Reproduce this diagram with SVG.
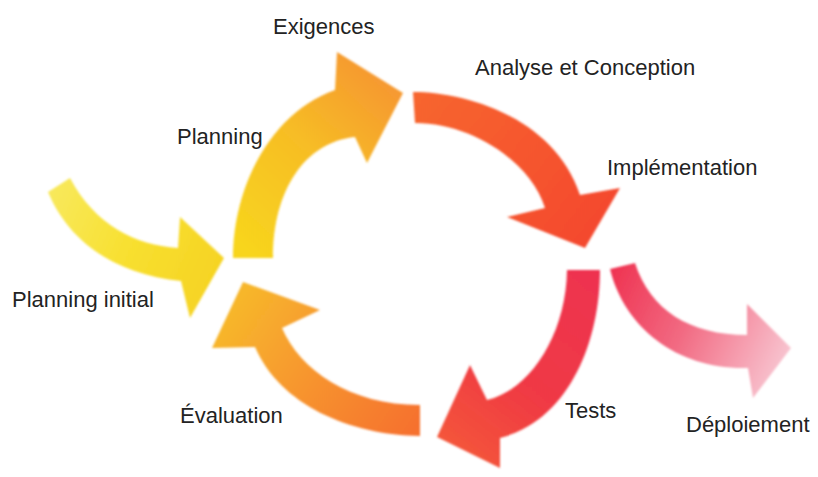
<svg xmlns="http://www.w3.org/2000/svg" width="818" height="477" viewBox="0 0 818 477">
  <defs>
    <style>
      .lbl { font-family: "Liberation Sans", Arial, sans-serif; font-size: 22px; fill: #232323; }
      .arr { filter: url(#soft); }
    </style>
    <filter id="soft" x="-10%" y="-10%" width="120%" height="120%">
      <feGaussianBlur stdDeviation="1.1"/>
    </filter>
    <linearGradient id="gPlan" gradientUnits="userSpaceOnUse" x1="250" y1="255" x2="395" y2="95">
      <stop offset="0" stop-color="#f8d51e"/>
      <stop offset="0.55" stop-color="#f7bd25"/>
      <stop offset="1" stop-color="#f69a30"/>
    </linearGradient>
    <linearGradient id="gAna" gradientUnits="userSpaceOnUse" x1="415" y1="105" x2="590" y2="240">
      <stop offset="0" stop-color="#f7652f"/>
      <stop offset="1" stop-color="#f4492f"/>
    </linearGradient>
    <linearGradient id="gTest" gradientUnits="userSpaceOnUse" x1="585" y1="270" x2="450" y2="445">
      <stop offset="0" stop-color="#ee3350"/>
      <stop offset="0.6" stop-color="#f03a44"/>
      <stop offset="1" stop-color="#f4553a"/>
    </linearGradient>
    <linearGradient id="gEval" gradientUnits="userSpaceOnUse" x1="420" y1="420" x2="240" y2="300">
      <stop offset="0" stop-color="#f6712f"/>
      <stop offset="0.5" stop-color="#f7922f"/>
      <stop offset="1" stop-color="#f7b62c"/>
    </linearGradient>
    <linearGradient id="gInit" gradientUnits="userSpaceOnUse" x1="55" y1="190" x2="220" y2="260">
      <stop offset="0" stop-color="#f8e85a"/>
      <stop offset="0.5" stop-color="#f8e030"/>
      <stop offset="1" stop-color="#f6d424"/>
    </linearGradient>
    <linearGradient id="gDep" gradientUnits="userSpaceOnUse" x1="615" y1="270" x2="790" y2="350">
      <stop offset="0" stop-color="#ef3553"/>
      <stop offset="0.45" stop-color="#f26a82"/>
      <stop offset="1" stop-color="#f8c3cf"/>
    </linearGradient>
  </defs>
  <rect width="818" height="477" fill="#ffffff"/>

  <g id="connectors">
    <path id="arrow-planning-initial" class="arr" fill="url(#gInit)" d="M48,192 L70,178 C95,225 135,245 178,248 L180,217 L224,258 L190,318 L181,281 C120,275 70,245 48,192 Z"/>
    <path id="arrow-planning" class="arr" fill="url(#gPlan)" d="M233,258 C233,185 272,112 335,90 L337,52 L403,93 L367,163 L355,137 C305,142 273,190 273,258 Z"/>
    <path id="arrow-analyse" class="arr" fill="url(#gAna)" d="M413,92 C470,92 555,120 580,195 L620,188 L585,248 L507,217 L545,208 C530,160 470,123 415,123 Z"/>
    <path id="arrow-tests" class="arr" fill="url(#gTest)" d="M567,270 L600,270 C600,340 570,420 500,438 L500,468 L437,437 L470,365 L487,400 C530,390 566,335 567,270 Z"/>
    <path id="arrow-evaluation" class="arr" fill="url(#gEval)" d="M420,405 L420,436 C350,435 280,405 255,347 L212,348 L243,282 L320,310 L282,328 C300,370 350,405 420,405 Z"/>
    <path id="arrow-deploiement" class="arr" fill="url(#gDep)" d="M610,269 L635,263 C650,310 690,335 747,335 L747,304 L791,348 L753,398 L748,368 C680,370 625,330 610,269 Z"/>
  </g>

  <g id="node-exigences"><text class="lbl" x="273" y="34">Exigences</text></g>
  <g id="node-analyse"><text class="lbl" x="475" y="75">Analyse et Conception</text></g>
  <g id="node-planning"><text class="lbl" x="177" y="144">Planning</text></g>
  <g id="node-implementation"><text class="lbl" x="607" y="175">Implémentation</text></g>
  <g id="node-planning-initial"><text class="lbl" x="12" y="307">Planning initial</text></g>
  <g id="node-evaluation"><text class="lbl" x="180" y="423">Évaluation</text></g>
  <g id="node-tests"><text class="lbl" x="565" y="418">Tests</text></g>
  <g id="node-deploiement"><text class="lbl" x="686" y="432">Déploiement</text></g>
</svg>
